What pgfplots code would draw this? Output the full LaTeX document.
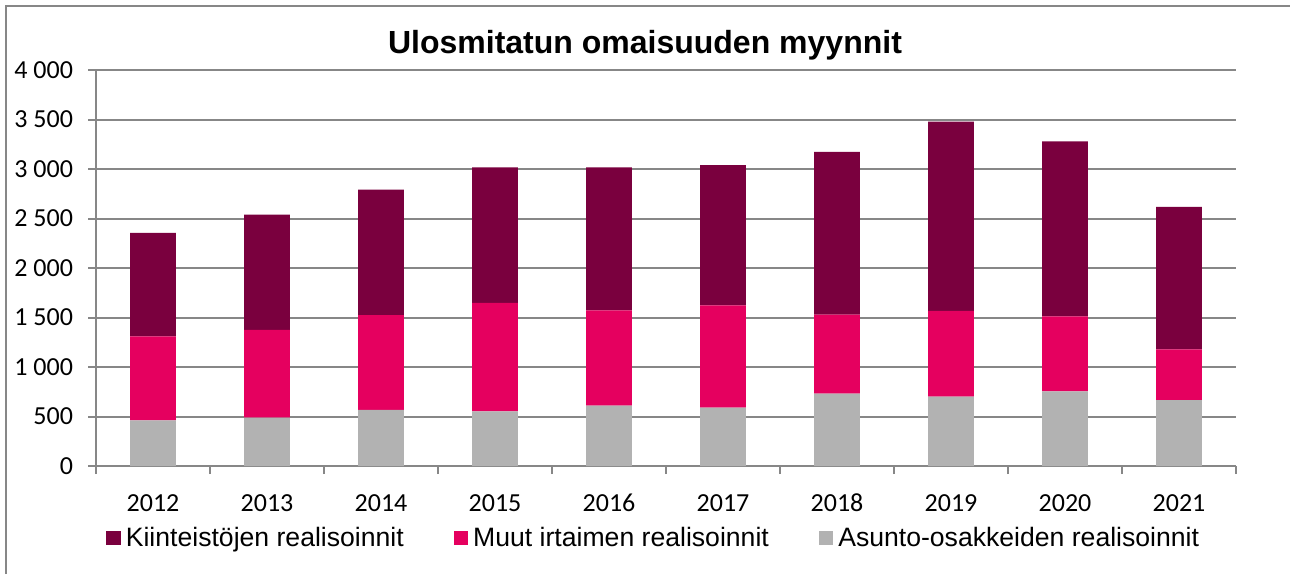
\documentclass[border=0pt]{standalone}
\usepackage{pgfplots}
\pgfplotsset{compat=1.18}
\usepackage{fontspec}
\setmainfont{Liberation Sans}
\newfontfamily\carlito{Carlito}
\definecolor{kiint}{HTML}{7A003E}
\definecolor{muut}{HTML}{E5005F}
\definecolor{asunto}{HTML}{B2B2B2}
\definecolor{gridc}{HTML}{878787}

\begin{document}
\begin{tikzpicture}
\useasboundingbox (0,0) rectangle (645pt,-287pt);
\draw[gridc, line width=1pt] (3pt,-287pt) -- (3pt,-3pt) -- (645pt,-3pt);
\node[font=\bfseries\fontsize{16}{19}\selectfont] at (322.5pt,-22.5pt) {Ulosmitatun omaisuuden myynnit};
\begin{axis}[
  at={(48pt,-233pt)}, anchor=south west,
  width=570pt, height=198pt, scale only axis,
  ybar stacked, bar width=22.8pt,
  xmin=-0.5, xmax=9.5, ymin=0, ymax=4000,
  xtick={0,...,9},
  xticklabels={2012,2013,2014,2015,2016,2017,2018,2019,2020,2021},
  minor xtick={-0.5,0.5,...,9.5},
  ytick={0,500,...,4000},
  axis x line*=bottom, axis y line*=left,
  axis line style={gridc, line width=1pt},
  tick align=outside,
  major tick length=4pt, minor tick length=4pt,
  major x tick style={draw=none},
  minor x tick style={gridc, line width=1pt},
  major y tick style={gridc, line width=1pt},
  ymajorgrids, grid style={gridc, line width=1pt},
  tick label style={font=\carlito\fontsize{13}{15.6}\selectfont},
  yticklabel style={xshift=-4pt},
  xticklabel style={yshift=-6pt, text height=9pt, text depth=0pt},
  /pgf/number format/assume math mode=true,
  /pgf/number format/1000 sep={\ },
  reverse legend,
  legend columns=3,
  legend cell align=left,
  legend image code/.code={\fill[#1, draw=none] (0pt,-3.6pt) rectangle (7.2pt,3.6pt);},
  legend style={at={(0.0088,-0.182)}, anchor=west, draw=none, fill=none,
    inner sep=0pt, nodes={inner sep=1pt},
    font=\fontsize{13.3}{16}\selectfont,
    /tikz/every odd column/.append style={column sep=1.5pt},
    /tikz/every even column/.append style={column sep=24pt}},
]
\addplot[fill=asunto, draw=none] coordinates {
  (0,462) (1,488) (2,566) (3,551) (4,610) (5,591) (6,732) (7,702) (8,754) (9,665)};
\addlegendentry{Asunto-osakkeiden realisoinnit}
\addplot[fill=muut, draw=none] coordinates {
  (0,847) (1,887) (2,957) (3,1098) (4,961) (5,1032) (6,798) (7,865) (8,758) (9,514)};
\addlegendentry{Muut irtaimen realisoinnit}
\addplot[fill=kiint, draw=none] coordinates {
  (0,1046) (1,1165) (2,1268) (3,1368) (4,1446) (5,1416) (6,1642) (7,1912) (8,1767) (9,1438)};
\addlegendentry{Kiinteistöjen realisoinnit}
\end{axis}
\end{tikzpicture}
\end{document}
